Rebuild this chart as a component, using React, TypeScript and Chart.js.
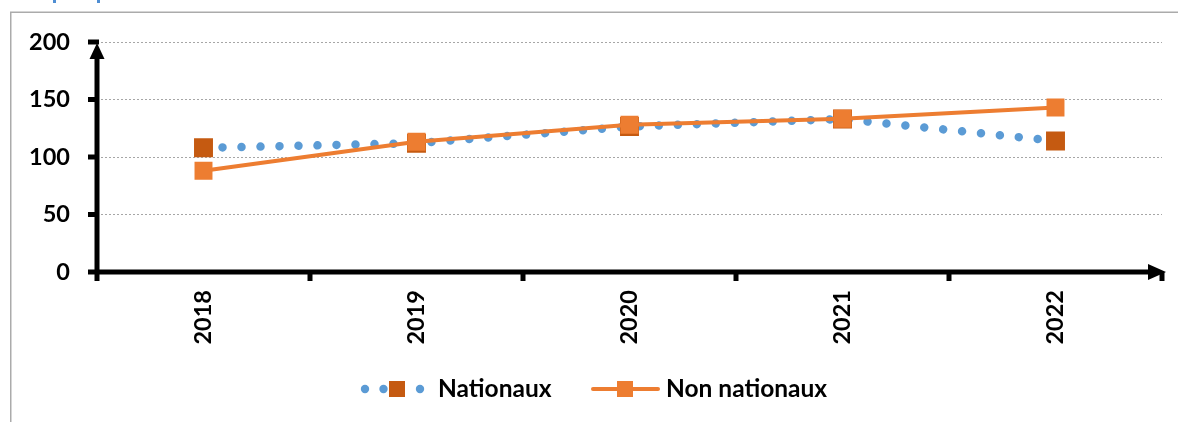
import React, { useEffect, useRef } from "react";
import { Chart, registerables } from "chart.js";

Chart.register(...registerables);

const categories = ["2018", "2019", "2020", "2021", "2022"];
const nationaux = [108, 112, 126.5, 133, 114];
const nonNationaux = [88, 113.3, 128, 133.2, 143];
const yTicks = [0, 50, 100, 150, 200];
const seriesNames = ["Nationaux", "Non nationaux"];

const FONT = 'Lato, "Open Sans", sans-serif';
const BLUE = "#5B9BD5";
const DARK_ORANGE = "#C55A11";
const ORANGE = "#ED7D31";

const decorPlugin = {
  id: "decor",
  beforeDatasetsDraw(chart: any) {
    const ctx = chart.ctx;
    const { left, right, bottom } = chart.chartArea;
    const y = chart.scales.y;
    ctx.save();
    // outer frame
    ctx.strokeStyle = "#ABABAB";
    ctx.lineWidth = 1.5;
    ctx.beginPath();
    ctx.moveTo(10.75, 422);
    ctx.lineTo(10.75, 12.25);
    ctx.lineTo(1178, 12.25);
    ctx.stroke();
    // fragments of clipped title above
    ctx.fillStyle = "#4F8ED3";
    ctx.fillRect(53, 0, 3, 3);
    ctx.fillRect(97, 0, 3, 3);

    ctx.strokeStyle = "#000";
    ctx.fillStyle = "#000";
    ctx.lineWidth = 5;
    ctx.lineCap = "butt";
    // y axis
    ctx.beginPath();
    ctx.moveTo(left, bottom + 9);
    ctx.lineTo(left, y.getPixelForValue(200) + 12);
    ctx.stroke();
    ctx.beginPath();
    ctx.moveTo(left, y.getPixelForValue(200) + 1);
    ctx.lineTo(left - 7.5, y.getPixelForValue(200) + 17);
    ctx.lineTo(left + 7.5, y.getPixelForValue(200) + 17);
    ctx.closePath();
    ctx.fill();
    // y tick stubs
    for (const v of yTicks) {
      const py = y.getPixelForValue(v);
      ctx.beginPath();
      ctx.moveTo(left - 9, py);
      ctx.lineTo(left + 2, py);
      ctx.stroke();
    }
    // x axis
    ctx.beginPath();
    ctx.moveTo(left - 2, bottom);
    ctx.lineTo(right - 10, bottom);
    ctx.stroke();
    ctx.beginPath();
    ctx.moveTo(right + 4, bottom);
    ctx.lineTo(right - 14, bottom - 8);
    ctx.lineTo(right - 14, bottom + 8);
    ctx.closePath();
    ctx.fill();
    // x tick stubs at category boundaries
    const n = categories.length;
    const step = (right - left) / n;
    for (let i = 1; i <= n; i++) {
      const px = left + i * step;
      ctx.beginPath();
      ctx.moveTo(px, bottom);
      ctx.lineTo(px, bottom + 9);
      ctx.stroke();
    }
    ctx.restore();
  },
  afterDraw(chart: any) {
    const ctx = chart.ctx;
    const ds = chart.data.datasets;
    const ly = 389;
    ctx.save();
    // Nationaux legend: blue dots + dark orange square
    ctx.fillStyle = ds[0].borderColor;
    for (const x of [365, 383.5, 420]) {
      ctx.beginPath();
      ctx.arc(x, ly, 4.2, 0, Math.PI * 2);
      ctx.fill();
    }
    ctx.fillStyle = ds[0].pointBackgroundColor;
    ctx.fillRect(389, ly - 8, 16, 16);
    ctx.font = `bold 24.5px ${FONT}`;
    ctx.fillStyle = "#000";
    ctx.textBaseline = "middle";
    ctx.textAlign = "left";
    ctx.fillText(ds[0].label, 438, ly);
    // Non nationaux legend
    ctx.strokeStyle = ds[1].borderColor;
    ctx.lineWidth = 4;
    ctx.lineCap = "round";
    ctx.beginPath();
    ctx.moveTo(593, ly);
    ctx.lineTo(658, ly);
    ctx.stroke();
    ctx.fillStyle = ds[1].pointBackgroundColor;
    ctx.fillRect(617, ly - 8, 16, 16);
    ctx.fillStyle = "#000";
    ctx.fillText(ds[1].label, 666, ly);
    ctx.restore();
  },
};

export default function App() {
  const ref = useRef<HTMLCanvasElement | null>(null);
  useEffect(() => {
    if (!ref.current) return;
    const chart = new Chart(ref.current, {
      type: "line",
      data: {
        labels: categories,
        datasets: [
          {
            label: seriesNames[0],
            data: nationaux,
            borderColor: BLUE,
            borderWidth: 8.5,
            borderDash: [0.001, 19],
            borderCapStyle: "round",
            tension: 0,
            pointStyle: "rect",
            pointRadius: 13.4,
            pointHoverRadius: 13.4,
            pointBackgroundColor: DARK_ORANGE,
            pointBorderColor: DARK_ORANGE,
            pointBorderWidth: 0,
            order: 1,
          } as any,
          {
            label: seriesNames[1],
            data: nonNationaux,
            borderColor: ORANGE,
            borderWidth: 4,
            tension: 0,
            pointStyle: "rect",
            pointRadius: 12.7,
            pointHoverRadius: 12.7,
            pointBackgroundColor: ORANGE,
            pointBorderColor: ORANGE,
            pointBorderWidth: 0,
            order: 0,
          } as any,
        ],
      },
      options: {
        responsive: false,
        animation: false,
        layout: { padding: { left: 0, top: 42, right: 16, bottom: 0 } },
        plugins: {
          legend: { display: false },
          tooltip: { enabled: false },
        },
        scales: {
          x: {
            type: "category",
            offset: true,
            grid: { display: false, drawTicks: false },
            border: { display: false },
            ticks: {
              minRotation: 90,
              maxRotation: 90,
              padding: 18,
              color: "#000",
              font: { family: FONT, size: 23.5, weight: "bold" },
            },
            afterFit: (s: any) => {
              s.height = 150;
            },
          },
          y: {
            min: 0,
            max: 200,
            afterBuildTicks: (s: any) => {
              s.ticks = yTicks.map((v) => ({ value: v }));
            },
            grid: { color: "#A6A6A6", lineWidth: 1, drawTicks: false },
            border: { display: false, dash: [2, 2] },
            ticks: {
              padding: 27,
              color: "#000",
              font: { family: FONT, size: 23.5, weight: "bold" },
            },
            afterFit: (s: any) => {
              s.width = 97;
            },
          },
        },
      },
      plugins: [decorPlugin],
    });
    return () => chart.destroy();
  }, []);
  return (
    <div style={{ position: "absolute", left: 0, top: 0, width: 1178, height: 422, background: "#fff" }}>
      <canvas ref={ref} width={1178} height={422} style={{ display: "block" }} />
    </div>
  );
}
